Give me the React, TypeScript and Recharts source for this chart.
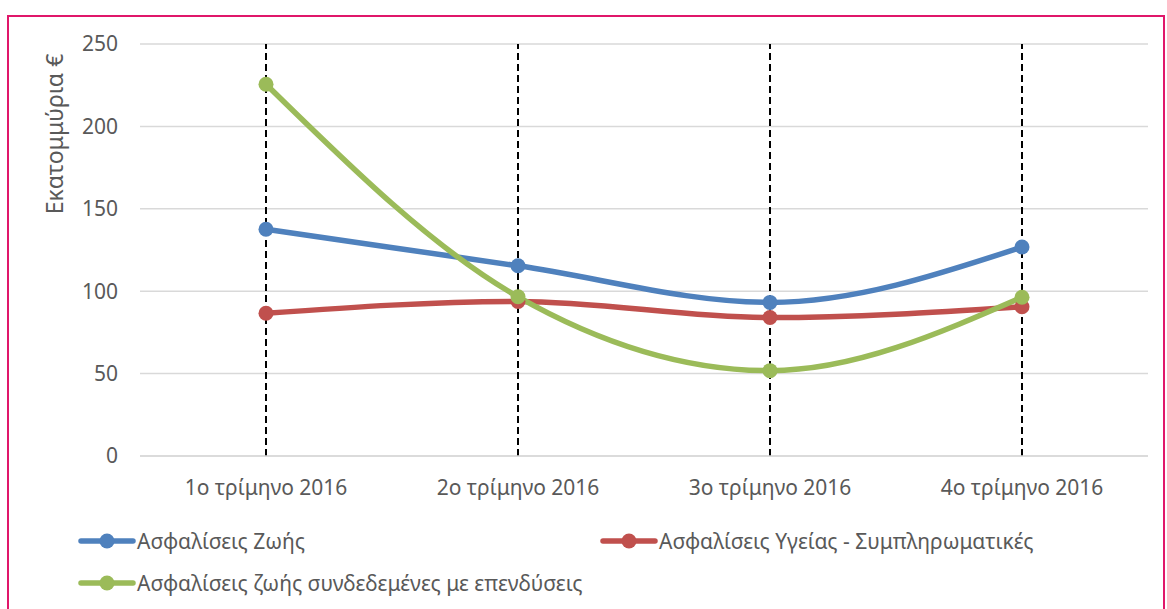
import React from 'react';
import {
  LineChart,
  Line,
  XAxis,
  YAxis,
  CartesianGrid,
  Legend,
  ReferenceLine,
} from 'recharts';

const quarters = ['1ο τρίμηνο 2016', '2ο τρίμηνο 2016', '3ο τρίμηνο 2016', '4ο τρίμηνο 2016'];
const lifeInsurance = [137.6, 115.4, 93.2, 126.8];
const healthInsurance = [86.6, 93.8, 84.0, 90.6];
const unitLinked = [225.6, 96.6, 51.8, 96.3];
const yTicks = [0, 50, 100, 150, 200, 250];

const seriesNames = {
  life: 'Ασφαλίσεις Ζωής',
  health: 'Ασφαλίσεις Υγείας - Συμπληρωματικές',
  linked: 'Ασφαλίσεις ζωής συνδεδεμένες με επενδύσεις',
};

const data = quarters.map((q, i) => ({
  name: q,
  life: lifeInsurance[i],
  health: healthInsurance[i],
  linked: unitLinked[i],
}));

const FONT = '"Noto Sans", "DejaVu Sans", sans-serif';
const TEXT = '#595959';

const legendItems = [
  { key: 'life', color: '#4F81BD', x: 78, y: 541 },
  { key: 'health', color: '#C0504D', x: 600, y: 541 },
  { key: 'linked', color: '#9BBB59', x: 78, y: 583 },
];

const LegendContent = () => (
  <div style={{ position: 'relative', width: 1167, height: 100 }}>
    {legendItems.map((it) => (
      <div
        key={it.key}
        style={{
          position: 'absolute',
          left: it.x,
          top: it.y - 508 - 14,
          display: 'flex',
          alignItems: 'center',
          height: 28,
          fontFamily: FONT,
          fontSize: 21,
          color: TEXT,
          whiteSpace: 'nowrap',
        }}
      >
        <svg width={58} height={16} style={{ marginRight: 1 }}>
          <line x1={3} y1={8} x2={55} y2={8} stroke={it.color} strokeWidth={5.5} strokeLinecap="round" />
          <circle cx={29} cy={8} r={7.5} fill={it.color} />
        </svg>
        {seriesNames[it.key as keyof typeof seriesNames]}
      </div>
    ))}
  </div>
);

const YLabel = (props: any) => {
  const vb = props.viewBox || { x: 0, y: 0 };
  const x = 54;
  const y = vb.y + 90;
  return (
    <text
      x={x}
      y={y}
      transform={`rotate(-90 ${x} ${y})`}
      textAnchor="middle"
      dominantBaseline="central"
      fill={TEXT}
      fontSize={23}
      fontFamily={FONT}
    >
      Εκατομμύρια €
    </text>
  );
};

export default function App() {
  return (
    <div style={{ position: 'absolute', left: 0, top: 0, width: 1167, height: 609, background: '#fff', overflow: 'hidden' }}>
      <div
        style={{
          position: 'absolute',
          left: 7,
          top: 15,
          width: 1158,
          height: 610,
          border: '2px solid #E0176A',
          boxSizing: 'border-box',
        }}
      />
      <LineChart
        width={1167}
        height={609}
        data={data}
        margin={{ top: 44, right: 19, bottom: 1, left: 0 }}
        style={{ position: 'absolute', left: 0, top: 0 }}
      >
        <CartesianGrid horizontal vertical={false} stroke="#D9D9D9" strokeWidth={1.5} />
        <XAxis
          dataKey="name"
          padding={{ left: 126, right: 126 }}
          tickLine={false}
          axisLine={{ stroke: '#D9D9D9', strokeWidth: 1.5 }}
          tick={{ fill: TEXT, fontSize: 21, fontFamily: FONT }}
          tickMargin={18}
          height={52}
        />
        <YAxis
          width={140}
          domain={[0, 250]}
          ticks={yTicks}
          tickLine={false}
          axisLine={false}
          tick={{ fill: TEXT, fontSize: 21, fontFamily: FONT }}
          tickMargin={16}
          label={<YLabel />}
        />
        {quarters.map((q) => (
          <ReferenceLine key={q} x={q} stroke="#000" strokeWidth={2} strokeDasharray="7 4" />
        ))}
        <Legend verticalAlign="bottom" wrapperStyle={{ left: 0, width: 1167 }} content={<LegendContent />} />
        <Line
          type="monotone"
          dataKey="life"
          name={seriesNames.life}
          stroke="#4F81BD"
          strokeWidth={5.5}
          dot={{ r: 7.5, fill: '#4F81BD', stroke: '#4F81BD', strokeWidth: 0 }}
          isAnimationActive={false}
        />
        <Line
          type="monotone"
          dataKey="health"
          name={seriesNames.health}
          stroke="#C0504D"
          strokeWidth={5.5}
          dot={{ r: 7.5, fill: '#C0504D', stroke: '#C0504D', strokeWidth: 0 }}
          isAnimationActive={false}
        />
        <Line
          type="monotone"
          dataKey="linked"
          name={seriesNames.linked}
          stroke="#9BBB59"
          strokeWidth={5.5}
          dot={{ r: 7.5, fill: '#9BBB59', stroke: '#9BBB59', strokeWidth: 0 }}
          isAnimationActive={false}
        />
      </LineChart>
    </div>
  );
}
